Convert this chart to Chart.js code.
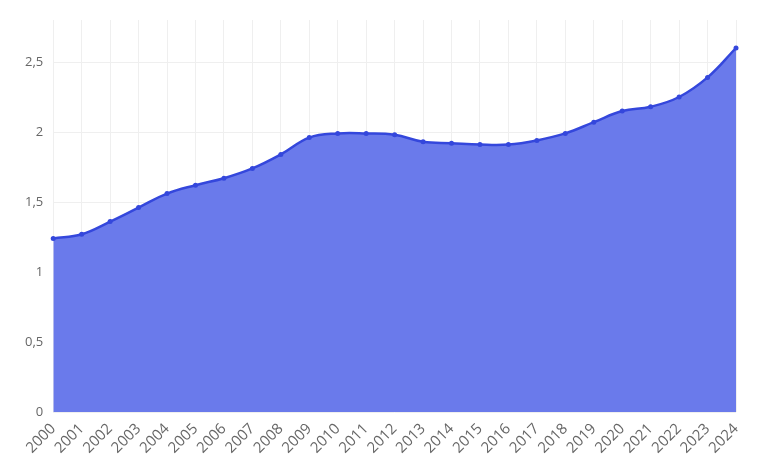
<!DOCTYPE html>
<html>
<head>
<meta charset="utf-8">
<script src="https://cdn.jsdelivr.net/npm/chart.js@4"></script>
<style>
  html, body { margin: 0; padding: 0; background: #fff; }
  #wrap { width: 768px; height: 465px; }
</style>
</head>
<body>
<div id="wrap"><canvas id="chart" width="768" height="465"></canvas></div>
<script>
const years = ['2000', '2001', '2002', '2003', '2004', '2005', '2006', '2007', '2008', '2009', '2010', '2011', '2012',
    '2013', '2014', '2015', '2016', '2017', '2018', '2019', '2020', '2021', '2022', '2023', '2024'];
const values = [1.24, 1.27, 1.36, 1.46, 1.56, 1.62, 1.67, 1.74, 1.84, 1.96, 1.99, 1.99, 1.98,
    1.93, 1.92, 1.91, 1.91, 1.94, 1.99, 2.07, 2.15, 2.18, 2.25, 2.39, 2.60];
const yTicks = [0, 0.5, 1, 1.5, 2, 2.5];

const ctx = document.getElementById('chart').getContext('2d');

const chart = new Chart(ctx, {
    type: 'line',
    data: {
        labels: years,
        datasets: [{
            data: values,
            borderColor: '#3447dc',
            backgroundColor: '#6a7aeb',
            borderWidth: 2.5,
            pointRadius: 2.5,
            pointBackgroundColor: '#3447dc',
            pointBorderWidth: 0,
            fill: 'origin',
            tension: 0.4
        }]
    },
    options: {
        responsive: false,
        animation: false,
        layout: { padding: { left: 15, right: 32, top: 20, bottom: 0 } },
        plugins: {
            legend: { display: false },
            tooltip: { enabled: false }
        },
        scales: {
            x: {
                grid: { color: '#efefef', drawTicks: false },
                border: { display: false },
                ticks: {
                    color: '#666',
                    font: { family: 'Open Sans', size: 15 },
                    maxRotation: 45,
                    minRotation: 45,
                    padding: 8,
                    autoSkip: false
                }
            },
            y: {
                min: 0,
                max: 2.8,
                grid: { color: '#efefef', drawTicks: false },
                border: { display: false },
                afterBuildTicks: axis => {
                    axis.ticks = yTicks.map(v => ({ value: v }));
                },
                ticks: {
                    color: '#666',
                    font: { family: 'Open Sans', size: 13 },
                    padding: 10,
                    callback: v => String(v).replace('.', ',')
                }
            }
        }
    }
});
</script>
</body>
</html>
